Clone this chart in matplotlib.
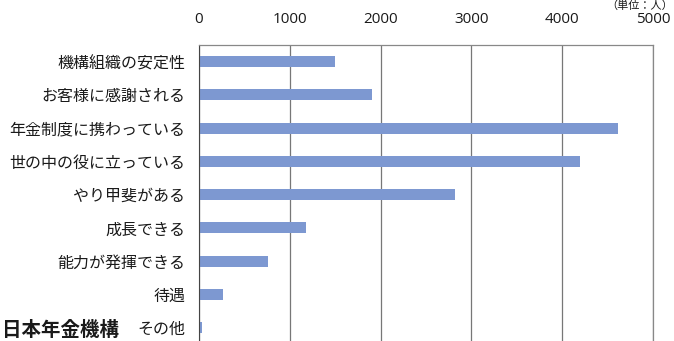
import matplotlib.pyplot as plt
import numpy as np

plt.rcParams['font.family'] = ['Noto Sans CJK JP', 'DejaVu Sans']

labels = ['機構組織の安定性', 'お客様に感謝される', '年金制度に携わっている',
          '世の中の役に立っている', 'やり甲斐がある', '成長できる',
          '能力が発揮できる', '待遇', 'その他']
counts = [1500, 1910, 4610, 4200, 2820, 1180, 760, 265, 30]
xticks = [0, 1000, 2000, 3000, 4000, 5000]

fig = plt.figure(figsize=(6.74, 3.41), dpi=100)
ax = fig.add_axes([0.2953, -0.107, 0.6736, 0.975])

y = np.arange(len(labels))
ax.barh(y, counts, height=0.33, color='#7D98D1', zorder=2)
ax.set_yticks(y)
ax.set_yticklabels(labels, fontsize=11.5, color='#1a1a1a')
ax.set_ylim(9.5, -0.5)
ax.set_xlim(0, 5000)
ax.set_xticks(xticks)
ax.xaxis.tick_top()
ax.tick_params(axis='x', length=0, pad=13, labelsize=11, labelcolor='#1a1a1a')
ax.tick_params(axis='y', length=0, pad=10)
for lab in ax.get_xticklabels():
    lab.set_family(['Open Sans', 'DejaVu Sans'])
ax.xaxis.grid(True, color='#777777', lw=0.9, zorder=1)
for s in ['top', 'right', 'bottom']:
    ax.spines[s].set_color('#888888')
    ax.spines[s].set_linewidth(0.9)
ax.spines['left'].set_color('#444444')

# unit note and source caption around the chart
fig.text(0.998, 0.998, '（単位：人）', fontsize=8, ha='right', va='top', color='#1a1a1a')
fig.text(0.003, 0.004, '日本年金機構', fontsize=14, fontweight='bold',
         ha='left', va='bottom', color='#1a1a1a')

fig.savefig('out.png', dpi=100)
